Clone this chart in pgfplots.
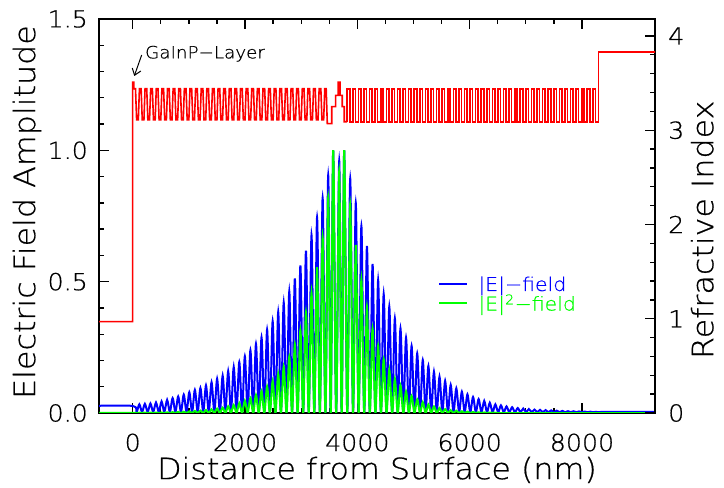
\documentclass[border=0pt]{standalone}
\usepackage{fontspec}
\IfFontExistsTF{DejaVu Sans ExtraLight}{\setmainfont{DejaVu Sans ExtraLight}[FakeStretch=1.08,FakeBold=0.6]}{\setmainfont{DejaVu Sans}[FakeStretch=1.08]}
\usepackage{pgfplots}
\pgfplotsset{compat=1.18}
\usetikzlibrary{arrows.meta}
\definecolor{myred}{RGB}{255,0,0}
\definecolor{myblue}{RGB}{0,0,255}
\definecolor{mygreen}{RGB}{0,255,0}
\pgfplotsset{
  common/.style={
    width=556bp, height=394bp, scale only axis,
    at={(99bp,75bp)}, anchor=south west,
    xmin=-600, xmax=9300,
    tick align=inside,
    major tick length=10bp, minor tick length=5bp,
    every tick/.style={black, line width=1.3bp},
    axis line style={line width=2bp, -},
    tick label style={font=\fontsize{23.5}{26}\selectfont, inner sep=0pt},
    label style={font=\fontsize{29.5}{32}\selectfont, inner sep=0pt},
    /pgf/number format/assume math mode=true,
  }
}
\begin{document}
\begin{tikzpicture}
\path[use as bounding box] (0,0) rectangle (724bp,488bp);
\begin{axis}[common,
  ymin=0, ymax=1.5,
  xtick={0,2000,4000,6000,8000}, xticklabels={0,2000,4000,6000,8000},
  minor x tick num=3,
  ytick={0,0.5,1,1.5}, yticklabels={0.0,0.5,1.0,1.5},
  minor y tick num=4,
  ytick pos=left, xticklabel pos=lower,
  xlabel={Distance from Surface (nm)},
  ylabel={Electric Field Amplitude},
  xlabel style={at={(axis description cs:0.5,-0.1445)}, anchor=center},
  ylabel style={at={(axis description cs:-0.1295,0.51)}, anchor=center},
  xticklabel style={anchor=center, yshift=-29.5bp},
  yticklabel style={anchor=east, xshift=-11bp},
  legend style={draw=none, fill=none, at={(axis description cs:0.61,0.352)}, anchor=north west,
    font=\fontsize{19}{21}\selectfont, row sep=-2bp, inner sep=0pt},
  legend cell align=left,
  legend image code/.code={\draw[#1] (0bp,0bp) -- (28bp,0bp); \path (36bp,0bp);},
]
\addplot[myblue, line width=2bp, smooth] coordinates {
(-700,0.027)(0,0.027)(68,0.004)(118,0.033)(167,0.004)(217,0.035)(266,0.004)(316,0.036)(365,0.004)(415,0.040)(464,0.004)(514,0.044)(563,0.004)(613,0.050)(662,0.004)(711,0.057)(761,0.004)(810,0.063)(860,0.004)(909,0.070)(959,0.004)(1008,0.079)(1058,0.004)(1107,0.088)(1157,0.004)(1206,0.095)(1256,0.004)(1305,0.105)(1355,0.004)(1404,0.117)(1454,0.004)(1503,0.130)(1553,0.004)(1602,0.142)(1651,0.004)(1700,0.159)(1750,0.004)(1799,0.175)(1849,0.004)(1898,0.194)(1948,0.004)(1997,0.216)(2047,0.004)(2096,0.239)(2146,0.004)(2195,0.263)(2245,0.004)(2294,0.288)(2344,0.004)(2393,0.317)(2443,0.004)(2492,0.349)(2542,0.004)(2591,0.385)(2640,0.004)(2689,0.421)(2739,0.004)(2788,0.463)(2838,0.004)(2887,0.512)(2937,0.004)(2986,0.562)(3036,0.004)(3085,0.618)(3135,0.004)(3184,0.677)(3234,0.004)(3283,0.745)(3333,0.004)(3382,0.819)(3432,0.004)(3481,0.905)(3526,0.004)(3570,1.0)(3623,0.004)(3677,0.96)(3721,0.004)(3766,1.0)(3820,0.004)
(3873,0.893)(3923,0.003)(3972,0.800)(4022,0.003)(4072,0.712)(4122,0.003)(4171,0.636)(4221,0.003)(4271,0.567)(4321,0.003)(4370,0.506)(4420,0.003)(4469,0.453)(4519,0.003)(4569,0.405)(4619,0.003)(4668,0.360)(4718,0.003)(4768,0.322)(4818,0.003)(4867,0.287)(4917,0.003)(4966,0.255)(5016,0.003)(5066,0.227)(5116,0.003)(5165,0.202)(5215,0.003)(5265,0.179)(5315,0.003)(5364,0.157)(5414,0.003)(5463,0.138)(5513,0.003)(5563,0.122)(5613,0.003)(5662,0.107)(5712,0.003)(5762,0.094)(5812,0.003)(5861,0.081)(5911,0.003)(5960,0.071)(6010,0.003)(6060,0.061)(6110,0.003)(6159,0.053)(6209,0.003)(6259,0.046)(6309,0.003)(6358,0.039)(6408,0.003)(6457,0.033)(6507,0.003)(6557,0.029)(6607,0.003)(6656,0.025)(6706,0.003)(6756,0.022)(6806,0.003)(6855,0.019)(6905,0.003)(6954,0.017)(7004,0.003)(7054,0.015)(7104,0.003)(7153,0.013)(7203,0.003)(7253,0.012)(7303,0.003)(7352,0.011)(7402,0.003)(7451,0.010)(7501,0.003)(7551,0.009)(7601,0.003)(7650,0.008)(7700,0.003)(7750,0.007)(7800,0.003)(7849,0.0065)(7899,0.003)(7948,0.006)(7998,0.003)(8048,0.0055)(8098,0.003)(8147,0.005)(8197,0.003)(8247,0.0045)(8297,0.003)(8400,0.004)(9400,0.004)
};
\addlegendentry{\textcolor{myblue}{|E|−field}}
\addplot[mygreen, line width=2bp, smooth] coordinates {
(-700,0.0007)(0,0.0007)(68,0)(118,0.0011)(167,0)(217,0.0012)(266,0)(316,0.0013)(365,0)(415,0.0016)(464,0)(514,0.0019)(563,0)(613,0.0025)(662,0)(711,0.0032)(761,0)(810,0.0040)(860,0)(909,0.0049)(959,0)(1008,0.0062)(1058,0)(1107,0.0077)(1157,0)(1206,0.0090)(1256,0)(1305,0.0110)(1355,0)(1404,0.0137)(1454,0)(1503,0.0169)(1553,0)(1602,0.0202)(1651,0)(1700,0.0253)(1750,0)(1799,0.0306)(1849,0)(1898,0.0376)(1948,0)(1997,0.0467)(2047,0)(2096,0.0571)(2146,0)(2195,0.0692)(2245,0)(2294,0.0829)(2344,0)(2393,0.1005)(2443,0)(2492,0.1218)(2542,0)(2591,0.1482)(2640,0)(2689,0.1772)(2739,0)(2788,0.2144)(2838,0)(2887,0.2621)(2937,0)(2986,0.3158)(3036,0)(3085,0.3819)(3135,0)(3184,0.4583)(3234,0)(3283,0.5550)(3333,0)(3382,0.6708)(3432,0)(3481,0.8190)(3526,0)(3570,1.0)(3623,0)(3677,0.92)(3721,0)(3766,1.0)(3820,0)
(3873,0.797)(3923,0)(3972,0.640)(4022,0)(4072,0.507)(4122,0)(4171,0.404)(4221,0)(4271,0.321)(4321,0)(4370,0.256)(4420,0)(4469,0.205)(4519,0)(4569,0.164)(4619,0)(4668,0.130)(4718,0)(4768,0.104)(4818,0)(4867,0.082)(4917,0)(4966,0.065)(5016,0)(5066,0.052)(5116,0)(5165,0.041)(5215,0)(5265,0.032)(5315,0)(5364,0.025)(5414,0)(5463,0.019)(5513,0)(5563,0.015)(5613,0)(5662,0.011)(5712,0)(5762,0.0088)(5812,0)(5861,0.0066)(5911,0)(5960,0.0050)(6010,0)(6060,0.0037)(6110,0)(6159,0.0028)(6209,0)(6259,0.0021)(6309,0)(6358,0.0015)(6408,0)(6457,0.0011)(6507,0)(9400,0)
};
\addlegendentry{\textcolor{mygreen}{|E|\textsuperscript{2}−field}}
\draw[black, line width=1bp, -{Straight Barb[length=6bp,width=9bp]}] (axis cs:160,1.363) -- (axis cs:28,1.283);
\node[anchor=base west, inner sep=0pt, font=\fontsize{17}{20}\selectfont] at (axis cs:219,1.35) {GaInP−Layer};
\end{axis}
\begin{axis}[common,
  ymin=0, ymax=4.18,
  axis x line=none, axis y line*=right,
  ytick={0,1,2,3,4}, minor y tick num=4,
  ylabel={Refractive Index},
  ylabel style={at={(axis description cs:1.085,0.465)}, anchor=center},
  yticklabel style={anchor=west, xshift=13bp},
]
\addplot[myred, line width=1.6bp] coordinates {
(-700,0.97)(0,0.97)(0,3.51)(20,3.51)
(20,3.44)(50,3.44)(70,3.11)(100,3.11)
(120,3.44)(150,3.44)(170,3.11)(200,3.11)
(220,3.44)(250,3.44)(270,3.11)(300,3.11)
(320,3.44)(350,3.44)(370,3.11)(400,3.11)
(420,3.44)(450,3.44)(470,3.11)(500,3.11)
(520,3.44)(550,3.44)(570,3.11)(600,3.11)
(620,3.44)(650,3.44)(670,3.11)(700,3.11)
(720,3.44)(750,3.44)(770,3.11)(800,3.11)
(820,3.44)(850,3.44)(870,3.11)(900,3.11)
(920,3.44)(950,3.44)(970,3.11)(1000,3.11)
(1020,3.44)(1050,3.44)(1070,3.11)(1100,3.11)
(1120,3.44)(1150,3.44)(1170,3.11)(1200,3.11)
(1220,3.44)(1250,3.44)(1270,3.11)(1300,3.11)
(1320,3.44)(1350,3.44)(1370,3.11)(1400,3.11)
(1420,3.44)(1450,3.44)(1470,3.11)(1500,3.11)
(1520,3.44)(1550,3.44)(1570,3.11)(1600,3.11)
(1620,3.44)(1650,3.44)(1670,3.11)(1700,3.11)
(1720,3.44)(1750,3.44)(1770,3.11)(1800,3.11)
(1820,3.44)(1850,3.44)(1870,3.11)(1900,3.11)
(1920,3.44)(1950,3.44)(1970,3.11)(2000,3.11)
(2020,3.44)(2050,3.44)(2070,3.11)(2100,3.11)
(2120,3.44)(2150,3.44)(2170,3.11)(2200,3.11)
(2220,3.44)(2250,3.44)(2270,3.11)(2300,3.11)
(2320,3.44)(2350,3.44)(2370,3.11)(2400,3.11)
(2420,3.44)(2450,3.44)(2470,3.11)(2500,3.11)
(2520,3.44)(2550,3.44)(2570,3.11)(2600,3.11)
(2620,3.44)(2650,3.44)(2670,3.11)(2700,3.11)
(2720,3.44)(2750,3.44)(2770,3.11)(2800,3.11)
(2820,3.44)(2850,3.44)(2870,3.11)(2900,3.11)
(2920,3.44)(2950,3.44)(2970,3.11)(3000,3.11)
(3020,3.44)(3050,3.44)(3070,3.11)(3100,3.11)
(3120,3.44)(3150,3.44)(3170,3.11)(3200,3.11)
(3220,3.44)(3250,3.44)(3270,3.11)(3300,3.11)
(3320,3.44)(3350,3.44)(3370,3.11)(3400,3.11)
(3420,3.44)(3445,3.44)(3465,3.07)(3545,3.07)
(3545,3.25)(3612,3.25)(3612,3.37)(3657,3.37)(3657,3.51)(3692,3.51)(3692,3.37)(3732,3.37)(3732,3.25)(3767,3.25)(3767,3.09)(3820,3.09)
};
\addplot[myred, line width=1.6bp, const plot] coordinates {
(3820,3.09)(3820,3.44)(3865,3.09)(3919,3.44)(3964,3.09)(4019,3.44)(4064,3.09)(4118,3.44)(4163,3.09)(4218,3.44)(4263,3.09)(4317,3.44)(4362,3.09)(4416,3.44)(4461,3.09)(4516,3.44)(4561,3.09)(4615,3.44)(4660,3.09)(4715,3.44)(4760,3.09)(4814,3.44)(4859,3.09)(4913,3.44)(4958,3.09)(5013,3.44)(5058,3.09)(5112,3.44)(5157,3.09)(5212,3.44)(5257,3.09)(5311,3.44)(5356,3.09)(5410,3.44)(5455,3.09)(5510,3.44)(5555,3.09)(5609,3.44)(5654,3.09)(5709,3.44)(5754,3.09)(5808,3.44)(5853,3.09)(5907,3.44)(5952,3.09)(6007,3.44)(6052,3.09)(6106,3.44)(6151,3.09)(6206,3.44)(6251,3.09)(6305,3.44)(6350,3.09)(6404,3.44)(6449,3.09)(6504,3.44)(6549,3.09)(6603,3.44)(6648,3.09)(6703,3.44)(6748,3.09)(6802,3.44)(6847,3.09)(6901,3.44)(6946,3.09)(7001,3.44)(7046,3.09)(7100,3.44)(7145,3.09)(7200,3.44)(7245,3.09)(7299,3.44)(7344,3.09)(7398,3.44)(7443,3.09)(7498,3.44)(7543,3.09)(7597,3.44)(7642,3.09)(7697,3.44)(7742,3.09)(7796,3.44)(7841,3.09)(7895,3.44)(7940,3.09)(7995,3.44)(8040,3.09)(8094,3.44)(8139,3.09)(8194,3.44)(8239,3.09)(8293,3.83)(9400,3.83)
};
\end{axis}
\end{tikzpicture}
\end{document}
